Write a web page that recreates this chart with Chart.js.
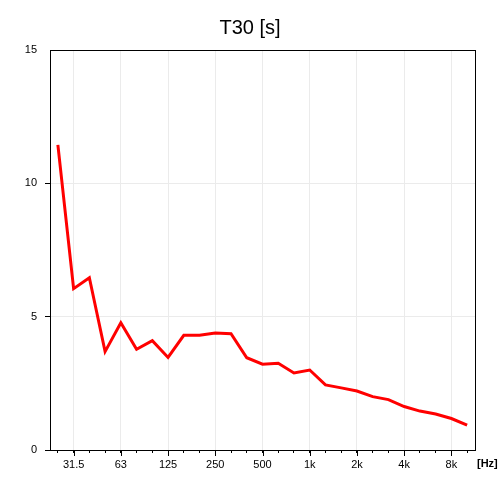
<!DOCTYPE html>
<html>
<head>
<meta charset="utf-8">
<script src="https://cdn.jsdelivr.net/npm/chart.js@4"></script>
<style>
  html, body { margin: 0; padding: 0; background: #fff; }
  #wrap { width: 500px; height: 500px; }
</style>
</head>
<body>
<div id="wrap"><canvas id="t30Chart" width="500" height="500"></canvas></div>
<script>
// third-octave bands, 25 Hz .. 10 kHz
const bands = ['25', '31.5', '40', '50', '63', '80', '100', '125', '160', '200', '250', '315', '400',
    '500', '630', '800', '1k', '1.25k', '1.6k', '2k', '2.5k', '3.15k', '4k', '5k', '6.3k', '8k', '10k'];
const shownLabels = ['31.5', '63', '125', '250', '500', '1k', '2k', '4k', '8k'];
const t30 = [11.44, 6.05, 6.46, 3.69, 4.77, 3.78, 4.10, 3.47, 4.30, 4.30, 4.39, 4.36, 3.46,
    3.22, 3.25, 2.89, 3.00, 2.44, 2.33, 2.21, 2.00, 1.89, 1.63, 1.46, 1.35, 1.18, 0.93];
const yTicks = [0, 5, 10, 15];

const FONT = 'Arial, "Liberation Sans", sans-serif';
const GRID = '#ebebeb';

function isShown(i) {
    return shownLabels.includes(bands[i]);
}

// black box around plot area, longer ticks at labelled bands, unit text
const framePlugin = {
    id: 'frame',
    afterDraw(chart) {
        const ctx = chart.ctx;
        const area = chart.chartArea;
        const xScale = chart.scales.x;
        ctx.save();
        ctx.strokeStyle = '#000';
        ctx.lineWidth = 1;
        ctx.strokeRect(Math.round(area.left) + 0.5, Math.round(area.top) + 0.5,
            Math.round(area.right - area.left), Math.round(area.bottom - area.top));
        ctx.beginPath();
        bands.forEach((b, i) => {
            if (!isShown(i)) return;
            const x = Math.round(xScale.getPixelForTick(i)) + 0.5;
            ctx.moveTo(x, area.bottom);
            ctx.lineTo(x, area.bottom + 6);
        });
        ctx.stroke();
        ctx.fillStyle = '#000';
        ctx.font = 'bold 11px ' + FONT;
        ctx.textBaseline = 'middle';
        ctx.textAlign = 'left';
        ctx.fillText('[Hz]', area.right + 2, area.bottom + 14);
        ctx.restore();
    }
};

const ctx = document.getElementById('t30Chart').getContext('2d');
new Chart(ctx, {
    type: 'line',
    data: {
        labels: bands,
        datasets: [{
            label: 'T30',
            data: t30,
            borderColor: '#ff0000',
            borderWidth: 3,
            pointRadius: 0,
            tension: 0,
            fill: false
        }]
    },
    options: {
        responsive: false,
        animation: false,
        devicePixelRatio: 1,
        layout: { padding: 0 },
        plugins: {
            legend: { display: false },
            tooltip: { enabled: false },
            title: {
                display: true,
                text: 'T30 [s]',
                color: '#000',
                font: { family: FONT, size: 20, weight: 'normal' },
                padding: { top: 16, bottom: 10 }
            }
        },
        scales: {
            x: {
                type: 'category',
                offset: true,
                grid: {
                    color: c => (c.index !== undefined && isShown(c.index) ? GRID : 'rgba(0,0,0,0)'),
                    tickColor: '#000',
                    tickLength: 3,
                    drawTicks: true
                },
                border: { color: '#000' },
                ticks: {
                    autoSkip: false,
                    maxRotation: 0,
                    color: '#000',
                    padding: 5,
                    font: { family: FONT, size: 11 },
                    callback: function (value, index) {
                        return isShown(index) ? bands[index] : '';
                    }
                },
                afterFit: scale => { scale.height = 50; }
            },
            y: {
                min: yTicks[0],
                max: yTicks[yTicks.length - 1],
                afterBuildTicks: scale => { scale.ticks = yTicks.map(v => ({ value: v })); },
                grid: {
                    color: c => (c.tick && (c.tick.value === 0 || c.tick.value === 15) ? 'rgba(0,0,0,0)' : GRID),
                    tickColor: c => (c.tick && c.tick.value === 15 ? 'rgba(0,0,0,0)' : '#000'),
                    tickLength: 5
                },
                border: { color: '#000' },
                ticks: {
                    color: '#000',
                    padding: 8,
                    font: { family: FONT, size: 11 }
                },
                afterFit: scale => { scale.width = 50; }
            },
            // empty right-hand strip so the title centres on the whole canvas
            yRight: {
                position: 'right',
                min: 0,
                max: 15,
                grid: { drawOnChartArea: false, drawTicks: false },
                border: { display: false },
                ticks: { display: false },
                afterFit: scale => { scale.width = 25; }
            }
        }
    },
    plugins: [framePlugin]
});
</script>
</body>
</html>
